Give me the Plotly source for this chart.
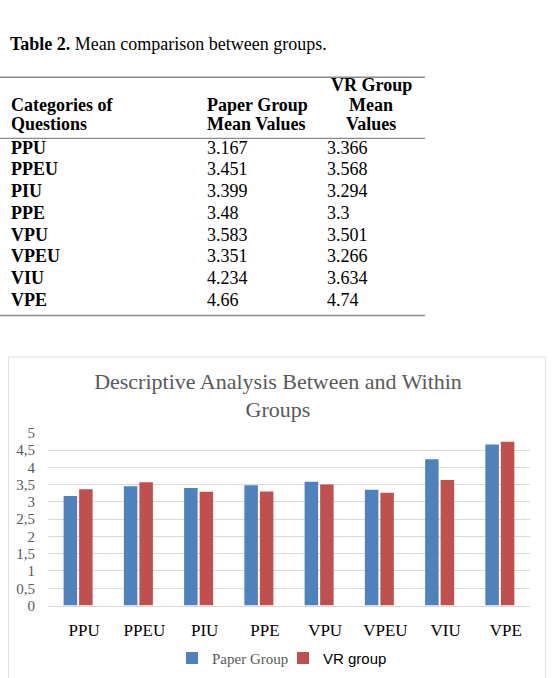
import plotly.graph_objects as go

# ---------------- data ----------------
categories = ["PPU", "PPEU", "PIU", "PPE", "VPU", "VPEU", "VIU", "VPE"]
paper_means = [3.167, 3.451, 3.399, 3.48, 3.583, 3.351, 4.234, 4.66]
vr_means = [3.366, 3.568, 3.294, 3.3, 3.501, 3.266, 3.634, 4.74]
y_ticks = [0, 0.5, 1, 1.5, 2, 2.5, 3, 3.5, 4, 4.5, 5]

table_title_bold = "Table 2."
table_title_rest = " Mean comparison between groups."
header_cat = ["Categories of", "Questions"]
header_paper = ["Paper Group", "Mean Values"]
header_vr = ["VR Group", "Mean", "Values"]
chart_title = "Descriptive Analysis Between and Within<br>Groups"
series_names = ["Paper Group", "VR group"]

# ---------------- layout helpers ----------------
W, H = 552, 678


def px(x):
    return x / W


def py(y):
    return 1 - y / H


BLUE = "#4F81BD"
RED = "#C0504D"
GRID = "#d9d9d9"
SERIF = "Liberation Serif"

fig = go.Figure()

fig.add_trace(go.Bar(
    x=categories, y=paper_means, name=series_names[0],
    marker=dict(color=BLUE, line=dict(width=0)),
    xaxis="x", yaxis="y",
))
fig.add_trace(go.Bar(
    x=categories, y=vr_means,
    name='<span style="font-family:Liberation Sans;fill:black;color:black">' + series_names[1] + '</span>',
    marker=dict(color=RED, line=dict(width=0)),
    xaxis="x", yaxis="y",
))

annotations = []
shapes = []

# ---------- table (text on a hidden axis: rows by index) ----------
TFONT = 18
DY = -4  # vertical nudge for table text
annotations.append(dict(
    xref="paper", yref="paper", x=px(8), y=py(41 + DY), xanchor="left", yanchor="middle",
    text="<b>" + table_title_bold + "</b>" + table_title_rest, showarrow=False,
    font=dict(family=SERIF, size=TFONT, color="black"),
))

col_cat, col_paper, col_vr, col_vr_center = 9, 205, 325, 371
for i, line in enumerate(header_cat):
    annotations.append(dict(xref="paper", yref="paper", x=px(col_cat), y=py(103 + 20 * i + DY),
                            xanchor="left", yanchor="middle", text="<b>" + line + "</b>",
                            showarrow=False, font=dict(family=SERIF, size=TFONT, color="black")))
for i, line in enumerate(header_paper):
    annotations.append(dict(xref="paper", yref="paper", x=px(col_paper), y=py(103 + 20 * i + DY),
                            xanchor="left", yanchor="middle", text="<b>" + line + "</b>",
                            showarrow=False, font=dict(family=SERIF, size=TFONT, color="black")))
for i, line in enumerate(header_vr):
    annotations.append(dict(xref="paper", yref="paper", x=px(col_vr_center), y=py(83 + 20 * i + DY),
                            xanchor="center", yanchor="middle", text="<b>" + line + "</b>",
                            showarrow=False, font=dict(family=SERIF, size=TFONT, color="black")))

for i, (c, p, v) in enumerate(zip(categories, paper_means, vr_means)):
    annotations.append(dict(xref="x2", yref="y2", x=col_cat, y=i, xanchor="left", yanchor="middle",
                            text="<b>" + c + "</b>", showarrow=False,
                            font=dict(family=SERIF, size=TFONT, color="black")))
    annotations.append(dict(xref="x2", yref="y2", x=col_paper, y=i, xanchor="left", yanchor="middle",
                            text=str(p), showarrow=False,
                            font=dict(family=SERIF, size=TFONT, color="black")))
    annotations.append(dict(xref="x2", yref="y2", x=col_vr, y=i, xanchor="left", yanchor="middle",
                            text=str(v), showarrow=False,
                            font=dict(family=SERIF, size=TFONT, color="black")))

for yy in (71, 133.5, 315):
    shapes.append(dict(type="line", xref="paper", yref="paper", x0=0, x1=px(425),
                       y0=py(yy), y1=py(yy), line=dict(color="#8a8a8a", width=1.4)))

# ---------- chart frame ----------
shapes.append(dict(type="rect", xref="paper", yref="paper", x0=px(8.5), x1=px(545.5),
                   y0=py(690), y1=py(357.5), line=dict(color="#e0e0e0", width=1),
                   fillcolor="rgba(0,0,0,0)", layer="below"))

fig.update_layout(
    width=W, height=H,
    margin=dict(l=0, r=0, t=0, b=0),
    paper_bgcolor="white", plot_bgcolor="white",
    separators=",.",
    barmode="group", bargap=0.485, bargroupgap=0.13,
    showlegend=True,
    legend=dict(orientation="h", x=px(283), xanchor="center", y=py(666), yanchor="middle",
                font=dict(family=SERIF, size=15, color="#595959"),
                itemwidth=30, entrywidth=66, tracegroupgap=0, bgcolor="rgba(0,0,0,0)"),
    title=dict(text=chart_title, x=px(278), xanchor="center", xref="paper",
               y=py(390), yanchor="middle", yref="paper",
               font=dict(family=SERIF, size=22, color="#595959")),
    xaxis=dict(domain=[px(48), px(530)], anchor="y", showgrid=False, showline=True,
               linecolor=GRID, linewidth=1, ticks="", zeroline=False,
               tickfont=dict(family=SERIF, size=17, color="black"),
               ticklabelstandoff=9, ticklabelshift=6, fixedrange=True),
    yaxis=dict(domain=[py(612), py(435)], anchor="x", range=[0, 5],
               tickvals=y_ticks, showgrid=True, gridcolor=GRID, gridwidth=1,
               zeroline=False, showline=False, ticks="",
               tickfont=dict(family=SERIF, size=15, color="#595959"),
               ticklabelstandoff=12, fixedrange=True),
    xaxis2=dict(domain=[0, 1], range=[0, W], anchor="y2", visible=False, fixedrange=True),
    yaxis2=dict(domain=[py(310), py(132)], range=[7.5, -0.5], anchor="x2", visible=False,
                fixedrange=True),
    annotations=annotations,
    shapes=shapes,
)

fig.write_html("out.html")
